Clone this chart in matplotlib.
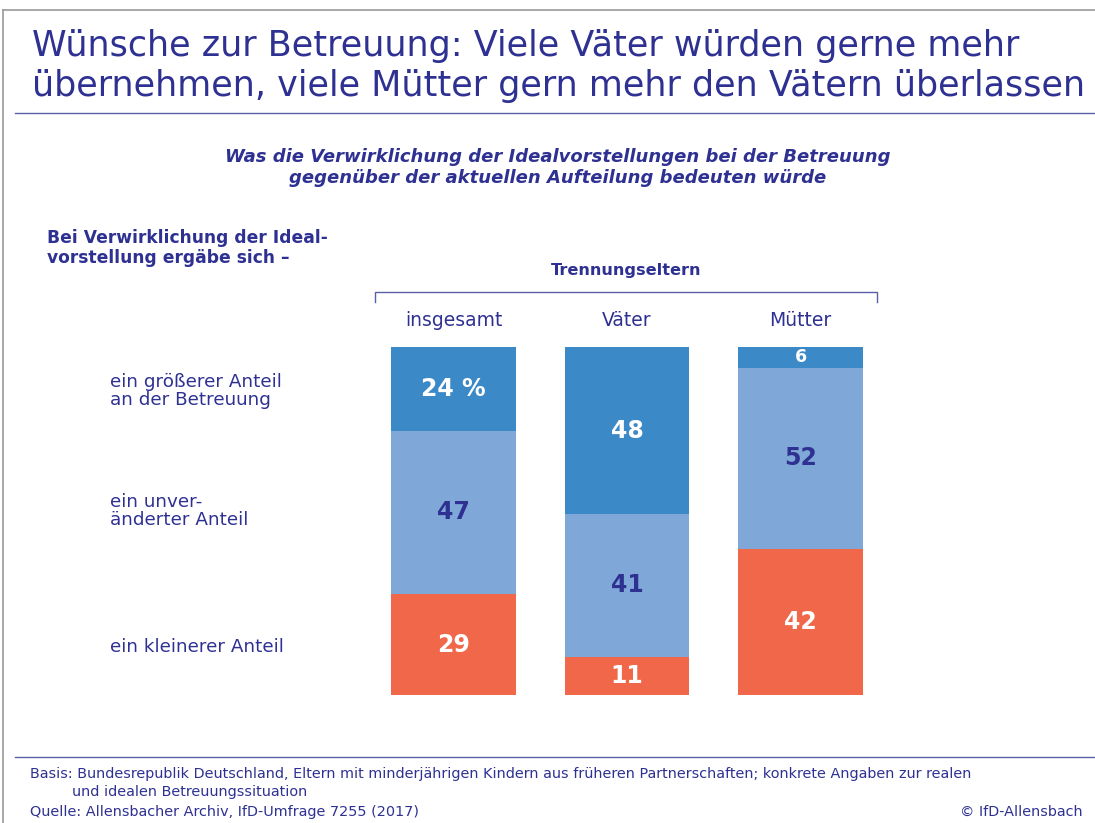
import matplotlib
matplotlib.use("Agg")
import matplotlib.pyplot as plt
from matplotlib.lines import Line2D

W, H = 1095, 823
plt.rcParams['font.family'] = ['DejaVu Sans']

categories = ["insgesamt", "Väter", "Mütter"]
groesser = [24, 48, 6]
unveraendert = [47, 41, 52]
kleiner = [29, 11, 42]
value_labels_top = ["24 %", "48", "6"]
row_labels = ["ein größerer Anteil\nan der Betreuung", "ein unver-\nänderter Anteil", "ein kleinerer Anteil"]

NAVY = "#2E3192"
C_DARK = "#3C89C8"
C_LIGHT = "#7FA8D8"
C_ORANGE = "#F0674A"

fig = plt.figure(figsize=(W/100, H/100), dpi=100)
renderer = fig.canvas.get_renderer()

def fx(x):
    return x / W

def fy(y):
    return 1 - y / H

def fit(t, target_px):
    w = t.get_window_extent(renderer).width
    t.set_fontsize(t.get_fontsize() * target_px / w)
    return t.get_fontsize()

# page frame
fig.add_artist(Line2D([fx(3), fx(3)], [fy(10), fy(823)], color="#9a9a9a", lw=1.2))
fig.add_artist(Line2D([fx(3), fx(1095)], [fy(10), fy(10)], color="#9a9a9a", lw=1.2))

# title
t1 = fig.text(fx(32), fy(46), "Wünsche zur Betreuung: Viele Väter würden gerne mehr",
              fontsize=24, color=NAVY, va="center", ha="left")
t2 = fig.text(fx(32), fy(86), "übernehmen, viele Mütter gern mehr den Vätern überlassen",
              fontsize=24, color=NAVY, va="center", ha="left")
s = fit(t2, 1056)
t1.set_fontsize(s)
fig.add_artist(Line2D([fx(15), fx(1095)], [fy(113), fy(113)], color="#5a5fa8", lw=1.0))

# subtitle
st1 = fig.text(fx(558), fy(157), "Was die Verwirklichung der Idealvorstellungen bei der Betreuung",
               fontsize=13, color=NAVY, ha="center", va="center", fontweight="bold", style="italic")
st2 = fig.text(fx(558), fy(178), "gegenüber der aktuellen Aufteilung bedeuten würde",
               fontsize=13, color=NAVY, ha="center", va="center", fontweight="bold", style="italic")
s = fit(st1, 662)
st2.set_fontsize(s)

# left header
h1 = fig.text(fx(47), fy(238), "Bei Verwirklichung der Ideal-", fontsize=12.5, color=NAVY,
              ha="left", va="center", fontweight="bold")
h2 = fig.text(fx(47), fy(258), "vorstellung ergäbe sich –", fontsize=12.5, color=NAVY,
              ha="left", va="center", fontweight="bold")
s = fit(h1, 281)
h2.set_fontsize(s)

# bracket
tr = fig.text(fx(626), fy(271), "Trennungseltern", fontsize=12.5, color=NAVY,
              ha="center", va="center", fontweight="bold")
fit(tr, 150)
fig.add_artist(Line2D([fx(375), fx(375), fx(877), fx(877)],
                      [fy(302), fy(292), fy(292), fy(302)], color="#5a5fa8", lw=1.0))

# bars
ax = fig.add_axes([fx(391), fy(695), fx(863) - fx(391), fy(347) - fy(695)])
x = list(range(len(categories)))
bw = 0.72
b1 = [k for k in kleiner]
b2 = [k + u for k, u in zip(kleiner, unveraendert)]
ax.bar(x, kleiner, width=bw, color=C_ORANGE)
ax.bar(x, unveraendert, width=bw, bottom=b1, color=C_LIGHT)
ax.bar(x, groesser, width=bw, bottom=b2, color=C_DARK)
ax.set_xlim(-0.36, 2.36)
ax.set_ylim(0, 100)
ax.axis("off")

VFS = 17
for i in x:
    ax.text(i, kleiner[i] / 2, str(kleiner[i]), ha="center", va="center",
            color="white", fontsize=VFS, fontweight="bold")
    ax.text(i, b1[i] + unveraendert[i] / 2, str(unveraendert[i]), ha="center", va="center",
            color=NAVY, fontsize=VFS, fontweight="bold")
    fs = VFS if groesser[i] > 10 else 12.5
    ax.text(i, b2[i] + groesser[i] / 2, value_labels_top[i], ha="center", va="center",
            color="white", fontsize=fs, fontweight="bold")

# category labels above bars
cat_texts = []
for i, c in enumerate(categories):
    cat_texts.append(ax.annotate(c, xy=(i, 100), xytext=(0, 27), textcoords="offset pixels",
                                 ha="center", va="center", color=NAVY, fontsize=13))
s = fit(cat_texts[0], 97)
for t in cat_texts:
    t.set_fontsize(s)

# row labels
r1 = fig.text(fx(110), fy(391), row_labels[0], color=NAVY, ha="left", va="center",
              linespacing=1.05, fontsize=s)
r2 = fig.text(fx(110), fy(511), row_labels[1], color=NAVY, ha="left", va="center",
              linespacing=1.05, fontsize=s)
r3 = fig.text(fx(110), fy(647), row_labels[2], color=NAVY, ha="left", va="center", fontsize=s)
s2 = fit(r3, 174)
r1.set_fontsize(s2)
r2.set_fontsize(s2)

# footer
fig.add_artist(Line2D([fx(15), fx(1095)], [fy(757), fy(757)], color="#5a5fa8", lw=1.0))
f1 = fig.text(fx(30), fy(774), "Basis: Bundesrepublik Deutschland, Eltern mit minderjährigen Kindern aus früheren Partnerschaften; konkrete Angaben zur realen",
              fontsize=10, color=NAVY, ha="left", va="center")
s = fit(f1, 940)
fig.text(fx(72), fy(792), "und idealen Betreuungssituation",
         fontsize=s, color=NAVY, ha="left", va="center")
fig.text(fx(30), fy(812), "Quelle: Allensbacher Archiv, IfD-Umfrage 7255 (2017)",
         fontsize=s, color=NAVY, ha="left", va="center")
fig.text(fx(1083), fy(812), "© IfD-Allensbach",
         fontsize=s, color=NAVY, ha="right", va="center")

fig.savefig("out.png", dpi=100)
